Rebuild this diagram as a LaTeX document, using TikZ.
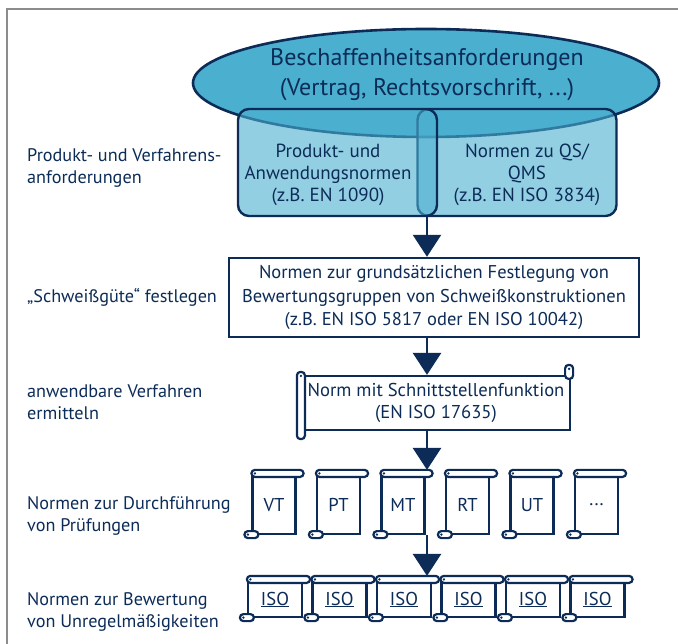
\documentclass[tikz,border=0pt]{standalone}
\usepackage{fontspec}
\setmainfont{PT Sans}
\usetikzlibrary{arrows.meta, shapes.geometric, positioning, calc}

\definecolor{navy}{HTML}{0C2C57}
\definecolor{sea}{HTML}{4BAFD0}
\definecolor{framegray}{HTML}{8C8C8C}

% roll at the top and curl at the bottom left of a document node
\newcommand{\rollparts}[1]{%
  \draw[roll] ($(#1.north west)+(0,-5)$) rectangle ($(#1.north east)+(7,2)$);
  \draw[roll] ($(#1.south west)+(-7,-4)$) rectangle ($(#1.south west)+(7,3)$);
  \fill[navy] ($(#1.north west)+(3.5,-1.5)$) circle (1.3);
  \fill[navy] ($(#1.south west)+(-3.5,-0.5)$) circle (1.3);
}
\newcommand{\dotstxt}{...}

\begin{document}
\begin{tikzpicture}[x=1pt, y=-1pt]
	\tikzset{every node/.style={text=navy},
		lbl/.style={align=left, anchor=west, inner sep=0pt, font=\fontsize{18.2}{22}\selectfont},
		part/.style={rectangle, rounded corners=11pt, draw=navy, line width=2.4pt, fill=sea, fill opacity=0.6, minimum height=107pt},
		parttxt/.style={align=center, inner sep=0pt, font=\fontsize{19}{22}\selectfont},
		normbox/.style={rectangle, draw=navy, line width=2.4pt, fill=white, align=center, inner sep=0pt, font=\fontsize{18.5}{23.5}\selectfont},
		doc/.style={rectangle, draw=navy, line width=2.2pt, fill=white, inner sep=0pt, font=\fontsize{18.6}{22}\selectfont},
		roll/.style={draw=navy, fill=white, line width=2.2pt, rounded corners=3.5pt},
		arr/.style={draw=navy, line width=2.6pt, -{Triangle[width=28pt, length=22pt]}}}

	\useasboundingbox (0,0) rectangle (678,644);
	\draw[framegray, line width=1.4pt] (7,644) -- (7,9) -- (678,9);

	% requirements
	\node[ellipse, draw=navy, line width=2.6pt, fill=sea, inner sep=0pt, minimum width=466pt, minimum height=108pt] (req) at (426,83) {};
	\node[align=center, inner sep=0pt, font=\fontsize{24}{30}\selectfont] (reqtxt) at (427,75) {Beschaffenheitsanforderungen\\(Vertrag, Rechtsvorschrift, ...)};

	\node[part, minimum width=199pt] (qs)   at (517,162.5) {};
	\node[part, minimum width=199pt] (prod) at (337.5,162.5) {};
	\node[parttxt] (prodtxt) at (328,175) {Produkt- und\\Anwendungsnormen\\(z.B. EN 1090)};
	\node[parttxt] (qstxt)   at (527,175) {Normen zu QS/\\QMS\\(z.B. EN ISO 3834)};
	\coordinate (axis) at (427,216);

	% weld quality
	\node[normbox, minimum width=410pt, minimum height=79pt] (gutes) at (434,297.5) {Normen zur grundsätzlichen Festlegung von\\Bewertungsgruppen von Schweißkonstruktionen\\(z.B. EN ISO 5817 oder EN ISO 10042)};

	% interface standard
	\node[doc, align=center, minimum width=268pt, minimum height=54pt] (iface) at (436,403) {Norm mit Schnittstellenfunktion\\(EN ISO 17635)};
	\draw[roll] ($(iface.north west)+(-4,-3)$) rectangle ($(iface.south west)+(4,8)$);
	\draw[roll] ($(iface.north east)+(-6,-10)$) rectangle ($(iface.north east)+(2,4)$);
	\fill[navy] ($(iface.north west)+(0,1)$) circle (1.3);
	\fill[navy] ($(iface.north east)+(-2,-6)$) circle (1.3);

	% testing and evaluation standards
	\foreach \t [count=\i from 0] in {VT,PT,MT,RT,UT,\dotstxt} {
		\node[doc, minimum width=43pt, minimum height=58pt] (exam\i) at (274+64.5*\i,505) {\t};
		\rollparts{exam\i}
		\node[doc, minimum width=54pt, minimum height=35pt] (iso\i) at (275+64.5*\i,599.5) {\underline{ISO}};
		\rollparts{iso\i}
	}

	\draw[arr] (axis) -- (axis |- gutes.north);
	\draw[arr] (axis |- gutes.south) -- (axis |- iface.north);
	\draw[arr] (axis |- iface.south) -- ([yshift=5pt]axis |- exam2.north);
	\draw[arr] (axis |- exam2.south) -- ([yshift=5pt]axis |- iso2.north);

	% labels on the left
	\node[lbl] (l1) at (27,168)   {Produkt- und Verfahrens-\\anforderungen};
	\node[lbl] (l2) at (27,297)   {„Schweißgüte“ festlegen};
	\node[lbl] (l3) at (27,402.5) {anwendbare Verfahren\\ermitteln};
	\node[lbl] (l4) at (27,516)   {Normen zur Durchführung\\von Prüfungen};
	\node[lbl] (l5) at (27,612)   {Normen zur Bewertung\\von Unregelmäßigkeiten};
\end{tikzpicture}
\end{document}
